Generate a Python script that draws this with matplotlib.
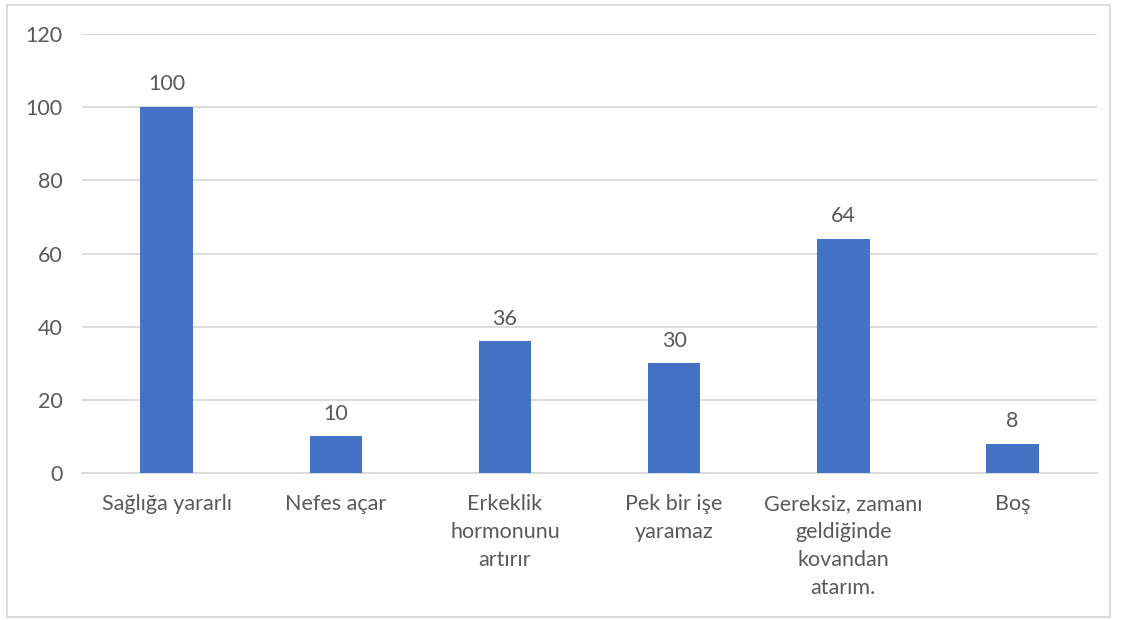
import matplotlib.pyplot as plt
from matplotlib.patches import Rectangle

categories = ["Sağlığa yararlı", "Nefes açar", "Erkeklik\nhormonunu\nartırır",
              "Pek bir işe\nyaramaz", "Gereksiz, zamanı\ngeldiğinde\nkovandan\natarım.", "Boş"]
values = [100, 10, 36, 30, 64, 8]
yticks = [0, 20, 40, 60, 80, 100, 120]

plt.rcParams['font.family'] = ['Lato', 'DejaVu Sans']
text_color = "#595959"

fig = plt.figure(figsize=(11.23, 6.2), dpi=100)
ax = fig.add_axes([0.073, 0.237, 0.904, 0.708])

x = range(len(values))
bars = ax.bar(x, values, width=0.31, color="#4472C4", zorder=3)
for xi, v in zip(x, values):
    ax.text(xi, v + 3.5, str(v), ha="center", va="bottom", fontsize=15.5, color=text_color)

ax.set_xlim(-0.5, len(values) - 0.5)
ax.set_ylim(0, 120)
ax.set_yticks(yticks)
ax.set_yticklabels([str(t) for t in yticks], fontsize=15.5, color=text_color)
ax.set_xticks(list(x))
ax.set_xticklabels(categories, fontsize=15.5, color=text_color, linespacing=1.5)
ax.tick_params(axis="x", length=0, pad=15)
ax.tick_params(axis="y", length=0, pad=14)
ax.grid(axis="y", color="#D9D9D9", linewidth=1.3, zorder=0)
for s in ["top", "right", "left"]:
    ax.spines[s].set_visible(False)
ax.spines["bottom"].set_color("#D9D9D9")
ax.spines["bottom"].set_linewidth(1.3)

fig.patches.append(Rectangle((0.006, 0.005), 0.982, 0.987, transform=fig.transFigure,
                             fill=False, edgecolor="#D9D9D9", linewidth=1.3))

fig.savefig("out.png", dpi=100)
